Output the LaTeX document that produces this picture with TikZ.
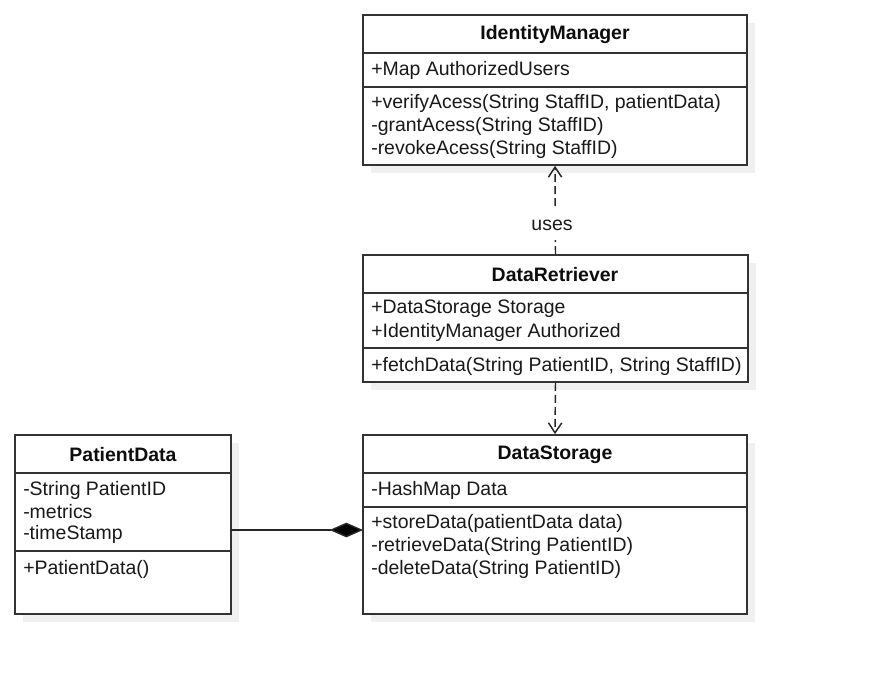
\documentclass[tikz,border=0pt]{standalone}
\usepackage{fontspec}
\setmainfont{Liberation Sans}
\usetikzlibrary{arrows.meta,fit}
\begin{document}
\begin{tikzpicture}[x=0.75pt,y=-0.75pt,
  box/.style={draw=black!80,line width=1.3pt,fill=white,inner sep=0pt},
  sep/.style={draw=black!80,line width=1.3pt},
  title/.style={font=\fontsize{14.6}{17}\selectfont\bfseries,inner sep=0pt,text=black!95},
  member/.style={font=\fontsize{14.6}{17}\selectfont,anchor=west,inner sep=0pt,text=black!90},
  dep/.style={draw=black!85,line width=1.1pt,dash pattern=on 6pt off 3pt,-{Straight Barb[length=7.5pt,width=10pt,line width=1.1pt]}},
  comp/.style={draw=black!85,line width=1.1pt,{Diamond[length=25pt,width=11pt,fill=black]}-}
]
\useasboundingbox (0,0) rectangle (874,675);
% shadows
\fill[black!6] (371,23) rectangle (755,173);
\fill[black!6] (371,263) rectangle (756,390);
\fill[black!6] (371,443) rectangle (755,622);
\fill[black!6] (23,443) rectangle (239,622);
% IdentityManager
\node[box,fit={(363,15)(747,165)}] (im) {};
\draw[sep] (363,53) -- (747,53);
\draw[sep] (363,87) -- (747,87);
\node[title] (imt) at (555,35) {IdentityManager};
\node[member] (ima) at (371,70) {+Map AuthorizedUsers};
\node[member] (imm1) at (371,103) {+verifyAcess(String StaffID, patientData)};
\node[member] (imm2) at (371,126) {-grantAcess(String StaffID)};
\node[member] (imm3) at (371,149) {-revokeAcess(String StaffID)};
% DataRetriever
\node[box,fit={(363,255)(748,382)}] (dr) {};
\draw[sep] (363,293) -- (748,293);
\draw[sep] (363,348) -- (748,348);
\node[title] (drt) at (555,275) {DataRetriever};
\node[member] (dra1) at (371,309) {+DataStorage Storage};
\node[member] (dra2) at (371,332) {+IdentityManager Authorized};
\node[member] (drm1) at (371,366) {+fetchData(String PatientID, String StaffID)};
% DataStorage
\node[box,fit={(363,435)(747,614)}] (ds) {};
\draw[sep] (363,473) -- (747,473);
\draw[sep] (363,507) -- (747,507);
\node[title] (dst) at (555,455) {DataStorage};
\node[member] (dsa) at (371,490) {-HashMap Data};
\node[member] (dsm1) at (371,523) {+storeData(patientData data)};
\node[member] (dsm2) at (371,546) {-retrieveData(String PatientID)};
\node[member] (dsm3) at (371,569) {-deleteData(String PatientID)};
% PatientData
\node[box,fit={(15,435)(231,614)}] (pd) {};
\draw[sep] (15,473) -- (231,473);
\draw[sep] (15,551) -- (231,551);
\node[title] (pdt) at (123,455) {PatientData};
\node[member] (pda1) at (23,490) {-String PatientID};
\node[member] (pda2) at (23,512) {-metrics};
\node[member] (pda3) at (23,534) {-timeStamp};
\node[member] (pdm1) at (23,569) {+PatientData()};
% connectors
\draw[dep] (dr.north) -- (im.south);
\node[fill=white,inner xsep=6pt,inner ysep=7pt,font=\fontsize{14.6}{17}\selectfont,text=black!90] (uses) at (552,225) {uses};
\draw[dep] (dr.south) -- (ds.north);
\coordinate (dsl) at (363,530);
\coordinate (pdr) at (231,530);
\draw[comp] (dsl) -- (pdr);
\end{tikzpicture}
\end{document}
